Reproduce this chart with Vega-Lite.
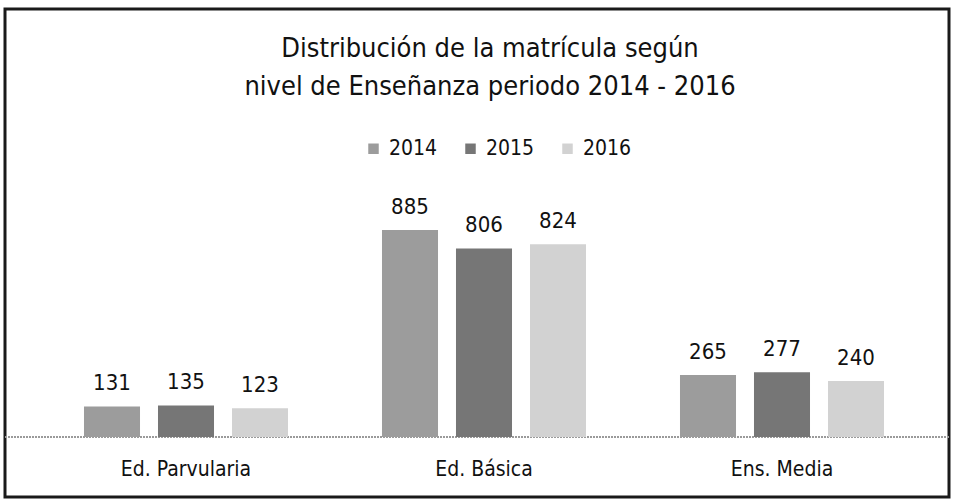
{
  "$schema": "https://vega.github.io/schema/vega-lite/v6.json",
  "width": 944,
  "height": 488,
  "autosize": {"type": "none"},
  "padding": {"left": 5, "top": 9, "right": 4, "bottom": 6},
  "background": "white",
  "config": {
    "font": "Liberation Sans Narrow, DejaVu Sans Condensed, sans-serif",
    "view": {"stroke": "#1a1a1a", "strokeWidth": 3}
  },
  "title": {
    "text": ["Distribución de la matrícula según", "nivel de Enseñanza periodo 2014 - 2016"],
    "anchor": "middle",
    "orient": "top",
    "offset": -92,
    "dx": 13,
    "fontSize": 27,
    "fontWeight": "normal",
    "color": "#111111",
    "lineHeight": 38
  },
  "data": {
    "values": [
      {"nivel": "Ed. Parvularia", "anio": "2014", "valor": 131},
      {"nivel": "Ed. Parvularia", "anio": "2015", "valor": 135},
      {"nivel": "Ed. Parvularia", "anio": "2016", "valor": 123},
      {"nivel": "Ed. Básica", "anio": "2014", "valor": 885},
      {"nivel": "Ed. Básica", "anio": "2015", "valor": 806},
      {"nivel": "Ed. Básica", "anio": "2016", "valor": 824},
      {"nivel": "Ens. Media", "anio": "2014", "valor": 265},
      {"nivel": "Ens. Media", "anio": "2015", "valor": 277},
      {"nivel": "Ens. Media", "anio": "2016", "valor": 240}
    ]
  },
  "layer": [
    {
      "mark": {"type": "rule", "color": "#9a9a9a", "strokeWidth": 1.5, "strokeDash": [2, 1]},
      "encoding": {"y": {"datum": 0, "type": "quantitative", "scale": {"domain": [-256, 1829], "nice": false, "zero": false}, "axis": null}}
    },
    {
      "mark": {"type": "bar"},
      "encoding": {
        "x": {
          "field": "nivel",
          "type": "nominal",
          "sort": ["Ed. Parvularia", "Ed. Básica", "Ens. Media"],
          "scale": {"paddingInner": 0, "paddingOuter": 0.0839, "align": 0.64},
          "axis": null
        },
        "xOffset": {"field": "anio", "type": "nominal", "scale": {"paddingInner": 0.243, "paddingOuter": 0.635}},
        "y": {"field": "valor", "type": "quantitative"},
        "y2": {"datum": 0},
        "color": {
          "field": "anio",
          "type": "nominal",
          "scale": {"domain": ["2014", "2015", "2016"], "range": ["#9c9c9c", "#767676", "#d2d2d2"]},
          "legend": {
            "title": null,
            "orient": "none",
            "legendX": 358,
            "legendY": 129,
            "direction": "horizontal",
            "symbolType": "square",
            "symbolSize": 110,
            "symbolStrokeWidth": 0,
            "labelFontSize": 21,
            "labelColor": "#111111",
            "columnPadding": 22,
            "labelOffset": 5
          }
        }
      }
    },
    {
      "mark": {"type": "text", "baseline": "bottom", "dy": -11, "fontSize": 22, "color": "#111111"},
      "encoding": {
        "x": {"field": "nivel", "type": "nominal", "sort": ["Ed. Parvularia", "Ed. Básica", "Ens. Media"]},
        "xOffset": {"field": "anio", "type": "nominal"},
        "y": {"field": "valor", "type": "quantitative"},
        "text": {"field": "valor", "type": "quantitative"}
      }
    },
    {
      "transform": [{"filter": "datum.anio == '2015'"}],
      "mark": {"type": "text", "baseline": "middle", "fontSize": 21, "color": "#111111"},
      "encoding": {
        "x": {"field": "nivel", "type": "nominal", "sort": ["Ed. Parvularia", "Ed. Básica", "Ens. Media"]},
        "y": {"datum": -140, "type": "quantitative"},
        "text": {"field": "nivel", "type": "nominal"}
      }
    }
  ]
}
